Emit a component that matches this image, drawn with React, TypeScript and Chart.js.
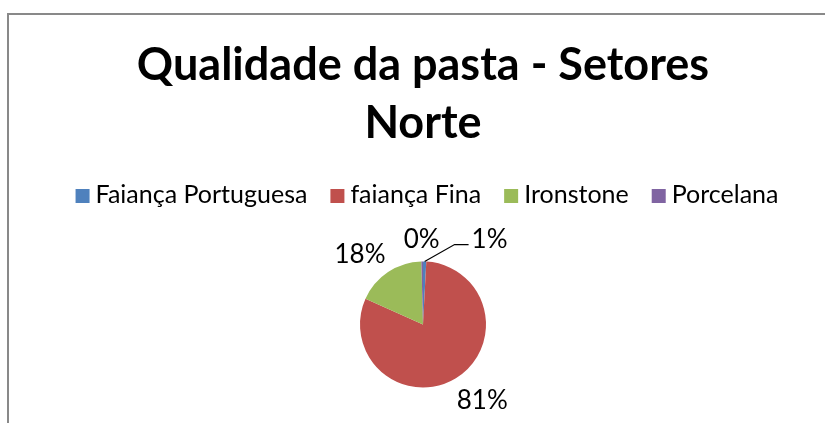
import React, { useEffect, useRef } from "react";
import { Chart, registerables } from "chart.js";

Chart.register(...registerables);

// ---- data ----
const TITLE_LINES = ["Qualidade da pasta - Setores", "Norte"];
const CATEGORIES = ["Faiança Portuguesa", "faiança Fina", "Ironstone", "Porcelana"];
const COUNTS = [8, 777, 172, 4];
const COLORS = ["#4F81BD", "#C0504D", "#9BBB59", "#8064A2"];

const FONT = "Lato, 'DejaVu Sans', sans-serif";
const TITLE_FONT = `bold 45px ${FONT}`;
const LEGEND_FONT = `25px ${FONT}`;
const LABEL_FONT = `26px ${FONT}`;

const decorPlugin = {
  id: "excelDecor",
  beforeDraw(chart: any) {
    const ctx = chart.ctx as CanvasRenderingContext2D;
    ctx.save();
    ctx.fillStyle = "#ffffff";
    ctx.fillRect(0, 0, chart.width, chart.height);
    ctx.strokeStyle = "#898989";
    ctx.lineWidth = 2;
    ctx.strokeRect(8, 14, 1200, 1200);
    ctx.restore();
  },
  afterDraw(chart: any) {
    const ctx = chart.ctx as CanvasRenderingContext2D;
    const area = chart.chartArea;
    const cxChart = (area.left + area.right) / 2;
    ctx.save();
    // title
    ctx.fillStyle = "#000000";
    ctx.font = TITLE_FONT;
    ctx.textAlign = "center";
    ctx.textBaseline = "alphabetic";
    const titleBaselines = [80, 138];
    TITLE_LINES.forEach((t, i) => ctx.fillText(t, cxChart, titleBaselines[i]));

    // legend
    ctx.font = LEGEND_FONT;
    ctx.textAlign = "left";
    const box = 14;
    const gap = 6;
    const spacing = 23;
    const widths = CATEGORIES.map((c) => ctx.measureText(c).width);
    const total = widths.reduce((a, w) => a + box + gap + w, 0) + spacing * (CATEGORIES.length - 1);
    let x = cxChart + 4 - total / 2;
    const baseline = 203;
    CATEGORIES.forEach((c, i) => {
      ctx.fillStyle = COLORS[i];
      ctx.fillRect(x, baseline - box, box, box);
      ctx.fillStyle = "#000000";
      ctx.fillText(c, x + box + gap, baseline);
      x += box + gap + widths[i] + spacing;
    });

    // data labels
    const meta = chart.getDatasetMeta(0);
    const values: number[] = chart.data.datasets[0].data;
    const sum = values.reduce((a, b) => a + b, 0);
    ctx.font = LABEL_FONT;
    ctx.textBaseline = "middle";
    ctx.textAlign = "center";
    const placed: { l: number; r: number; t: number; b: number }[] = [];
    const h = 18;
    for (let i = meta.data.length - 1; i >= 0; i--) {
      const arc = meta.data[i];
      const p = arc.getProps(["x", "y", "startAngle", "endAngle", "outerRadius"], true);
      const mid = (p.startAngle + p.endAngle) / 2;
      const dx = Math.cos(mid);
      const dy = Math.sin(mid);
      const text = Math.round((values[i] / sum) * 100) + "%";
      const w = ctx.measureText(text).width;
      let cx = p.x + dx * (p.outerRadius + 25) + (dx * w) / 2;
      const cy = p.y + dy * (p.outerRadius + 24) + 2;
      let bx = { l: cx - w / 2, r: cx + w / 2, t: cy - h / 2, b: cy + h / 2 };
      const hit = placed.find((o) => bx.l < o.r && bx.r > o.l && bx.t < o.b && bx.b > o.t);
      if (hit) {
        const left = hit.r + 32;
        cx = left + w / 2;
        bx = { l: left, r: left + w, t: bx.t, b: bx.b };
        ctx.strokeStyle = "#000000";
        ctx.lineWidth = 1.2;
        ctx.beginPath();
        ctx.moveTo(p.x + dx * p.outerRadius, p.y + dy * p.outerRadius);
        ctx.lineTo(left - 17, cy + 5);
        ctx.lineTo(left - 3, cy + 5);
        ctx.stroke();
      }
      placed.push(bx);
      ctx.fillStyle = "#000000";
      ctx.fillText(text, cx, cy);
    }
    ctx.restore();
  },
};

export default function App() {
  const ref = useRef<HTMLCanvasElement | null>(null);
  useEffect(() => {
    if (!ref.current) return;
    const chart = new Chart(ref.current, {
      type: "pie",
      data: {
        labels: CATEGORIES,
        datasets: [
          {
            data: COUNTS,
            backgroundColor: COLORS,
            borderWidth: 0,
          },
        ],
      },
      options: {
        responsive: false,
        animation: false,
        layout: { padding: { left: 360, right: 339, top: 261.5, bottom: 35.5 } },
        plugins: {
          legend: { display: false },
          title: { display: false },
          tooltip: { enabled: false },
        },
      },
      plugins: [decorPlugin],
    });
    return () => chart.destroy();
  }, []);
  return (
    <div style={{ position: "absolute", left: 0, top: 0, width: 825, height: 423 }}>
      <canvas ref={ref} width={825} height={423} style={{ display: "block" }} />
    </div>
  );
}
